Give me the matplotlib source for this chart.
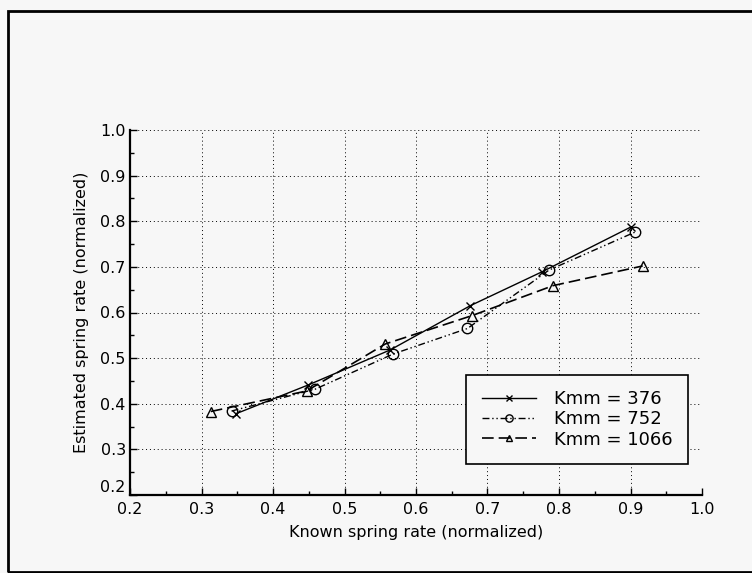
import matplotlib
matplotlib.use("Agg")
import matplotlib.pyplot as plt
from matplotlib.patches import Rectangle
from matplotlib.ticker import MultipleLocator

# Data
x_376 = [0.348, 0.449, 0.564, 0.676, 0.776, 0.900]
y_376 = [0.378, 0.441, 0.518, 0.615, 0.689, 0.787]
x_752 = [0.342, 0.459, 0.568, 0.672, 0.786, 0.906]
y_752 = [0.384, 0.432, 0.509, 0.565, 0.693, 0.776]
x_1066 = [0.313, 0.447, 0.557, 0.678, 0.792, 0.917]
y_1066 = [0.383, 0.428, 0.531, 0.593, 0.659, 0.702]
labels = ["Kmm = 376", "Kmm = 752", "Kmm = 1066"]
ticks = [0.2, 0.3, 0.4, 0.5, 0.6, 0.7, 0.8, 0.9, 1.0]

plt.rcParams['font.family'] = ['DejaVu Sans']
fig = plt.figure(figsize=(7.52, 5.73), dpi=100)
fig.patch.set_facecolor('#f7f7f7')
ax = fig.add_axes([130/752, 1-495/573, (702-130)/752, (495-130)/573])
ax.set_facecolor('#f7f7f7')

ax.plot(x_376, y_376, color='black', lw=1.0, ls='-', marker='x', ms=6, mew=1.0, label=labels[0])
ax.plot(x_752, y_752, color='black', lw=1.0, ls=(0, (5, 2, 1, 2, 1, 2)), marker='o', ms=7.5, mfc='none', mew=1.0, label=labels[1])
ax.plot(x_1066, y_1066, color='black', lw=1.2, ls=(0, (7, 3)), marker='^', ms=6.5, mfc='none', mew=1.0, label=labels[2])

ax.set_xlim(0.2, 1.0)
ax.set_ylim(0.2, 1.0)
ax.set_xticks(ticks)
ax.set_yticks(ticks)
ax.set_xticklabels([f"{t:.1f}" for t in ticks])
ax.set_yticklabels([f"{t:.1f}" for t in ticks])
ax.xaxis.set_minor_locator(MultipleLocator(0.05))
ax.yaxis.set_minor_locator(MultipleLocator(0.05))
ax.tick_params(which='both', direction='in', color='black', labelsize=11.5, pad=3)
ax.tick_params(axis='x', which='major', pad=5)
ax.tick_params(which='major', length=5, width=1)
ax.tick_params(which='minor', length=3, width=1)
ax.grid(True, which='major', color='black', ls=(0, (1, 3)), lw=0.7)
ax.get_yticklabels()[0].set_verticalalignment('bottom')

for s in ['top', 'right']:
    ax.spines[s].set_visible(False)
for s in ['left', 'bottom']:
    ax.spines[s].set_linewidth(1.6)

ax.set_xlabel("Known spring rate (normalized)", fontsize=11.5, labelpad=6)
ax.set_ylabel("Estimated spring rate (normalized)", fontsize=11.5, labelpad=8)

leg = ax.legend(loc='lower right', bbox_to_anchor=(0.9755, 0.085), borderaxespad=0,
                fontsize=13, frameon=True, fancybox=False, edgecolor='black',
                facecolor='#f7f7f7', framealpha=1, handlelength=3.0, borderpad=0.85,
                labelspacing=0.12, markerscale=0.7, handletextpad=1.0)
leg.get_frame().set_linewidth(1.2)

fig.patches.append(Rectangle((8/752, 1/573), 1.2, 1-11/573 - 1/573, transform=fig.transFigure,
                             fill=False, edgecolor='black', lw=2.0))

fig.savefig("out.png", dpi=100, facecolor=fig.get_facecolor())
